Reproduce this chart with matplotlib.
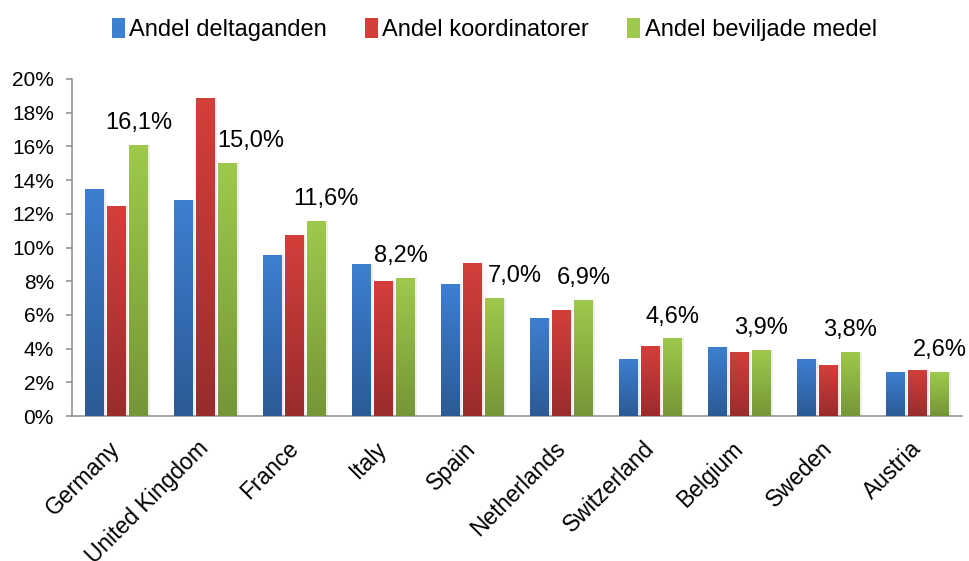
import matplotlib
matplotlib.use("Agg")
import matplotlib.pyplot as plt
import numpy as np
from matplotlib.colors import LinearSegmentedColormap
from matplotlib.patches import Patch

plt.rcParams['font.family'] = ['Liberation Sans', 'DejaVu Sans']

# data (percent)
countries = ["Germany", "United Kingdom", "France", "Italy", "Spain",
             "Netherlands", "Switzerland", "Belgium", "Sweden", "Austria"]
deltaganden = [13.5, 12.8, 9.55, 9.0, 7.85, 5.8, 3.4, 4.1, 3.4, 2.6]
koordinatorer = [12.45, 18.9, 10.75, 8.0, 9.1, 6.3, 4.15, 3.8, 3.0, 2.75]
beviljade = [16.1, 15.0, 11.6, 8.2, 7.0, 6.9, 4.6, 3.9, 3.8, 2.6]
series_names = ["Andel deltaganden", "Andel koordinatorer", "Andel beviljade medel"]

# label shifts in points (labels were hand-placed in the original)
label_dx = [0, 16.5, 6.5, -3, 14.5, 0, 0, 0, 0, 0]

# (top colour, bottom colour) for the gradient fill
grads = [("#3d7fd0", "#2c5a96"), ("#d43f3b", "#9a2c2c"), ("#9fc94c", "#759637")]

fig = plt.figure(figsize=(9.69, 5.61), dpi=100)
ax = fig.add_axes([72 / 969, 1 - 416 / 561, 890 / 969, 337 / 561])

x = np.arange(len(countries))
width = 0.213
step = 0.247
grad = np.linspace(1, 0, 256).reshape(-1, 1)

for i, (vals, (ctop, cbot)) in enumerate(zip([deltaganden, koordinatorer, beviljade], grads)):
    pos = x + (i - 1) * step
    # soft shadow
    ax.bar(pos + 0.018, vals, width, color="#000000", alpha=0.07, zorder=1)
    bars = ax.bar(pos, vals, width, color="none", edgecolor="none", zorder=2)
    cmap = LinearSegmentedColormap.from_list(f"g{i}", [cbot, ctop])
    for b in bars:
        bx, by = b.get_x(), b.get_y()
        bw, bh = b.get_width(), b.get_height()
        im = ax.imshow(grad, cmap=cmap, aspect="auto", zorder=3,
                       extent=[bx, bx + bw, by, by + bh], origin="upper",
                       vmin=0, vmax=1, interpolation="bilinear")
        im.set_clip_path(b)

for xi, v, dx in zip(x, beviljade, label_dx):
    ax.annotate(f"{v:.1f}".replace(".", ",") + "%", (xi + step, v),
                xytext=(dx, 11.5), textcoords="offset points",
                ha="center", va="baseline", fontsize=17, zorder=5)

ax.set_xlim(-0.5, len(countries) - 0.5)
ax.set_ylim(0, 20)
ax.set_yticks(np.arange(0, 21, 2))
ax.set_yticklabels([f"{t}%" for t in range(0, 21, 2)])
ax.set_xticks(x)
ax.set_xticklabels(countries, rotation=45, ha="right", va="center",
                   rotation_mode="anchor", fontsize=16.5)

for s in ["top", "right"]:
    ax.spines[s].set_visible(False)
for s in ["left", "bottom"]:
    ax.spines[s].set_color("#8c8c8c")
    ax.spines[s].set_linewidth(1.1)
ax.tick_params(axis="y", length=4, width=1.1, color="#8c8c8c", pad=9, labelsize=15)
ax.tick_params(axis="x", length=0, pad=21)

handles = [Patch(facecolor=ctop, edgecolor="none") for ctop, _ in grads]
fig.legend(handles, series_names, loc="upper center", bbox_to_anchor=(0.51, 1.005),
           ncol=3, frameon=False, fontsize=17, handlelength=0.55, handleheight=0.9,
           handletextpad=0.2, columnspacing=1.6)

fig.savefig("out.png", dpi=100)
